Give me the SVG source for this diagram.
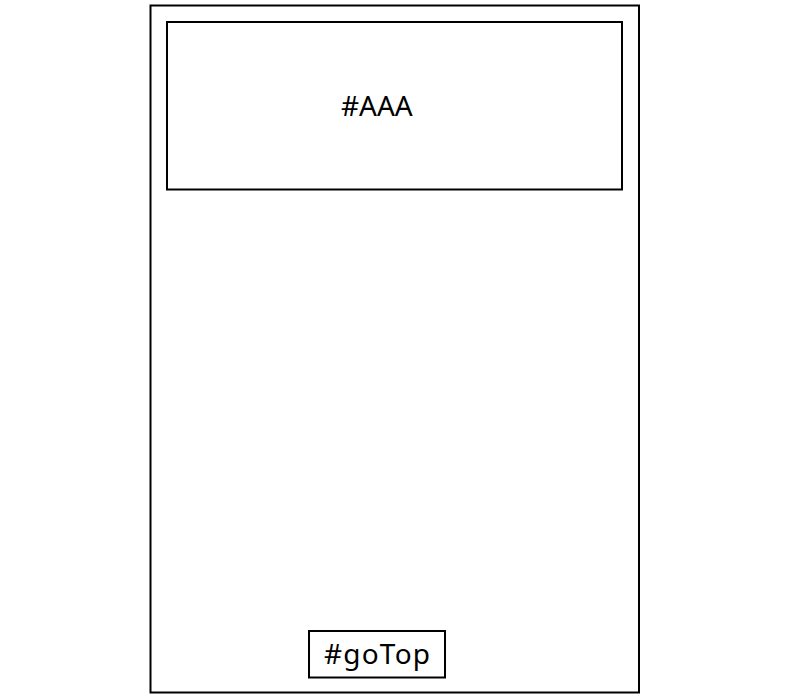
<svg xmlns="http://www.w3.org/2000/svg" width="800" height="700" viewBox="0 0 800 700">
<style>
.box{fill:none;stroke:#000;stroke-width:2}
.lbl{font-family:"Noto Sans","DejaVu Sans",sans-serif;font-size:28px;fill:#000}
</style>
<rect width="800" height="700" fill="#fff"/>
<g id="outer"><rect class="box" x="150.5" y="5.5" width="488.5" height="687"/></g>
<g id="AAA"><rect class="box" x="167" y="22" width="455" height="167.5"/><text class="lbl" x="341" y="116">#AAA</text></g>
<g id="goTop"><rect class="box" x="309" y="631" width="136" height="46.5"/><text class="lbl" x="324" y="664" textLength="106" lengthAdjust="spacing">#goTop</text></g>
<g id="connectors"></g>
</svg>
